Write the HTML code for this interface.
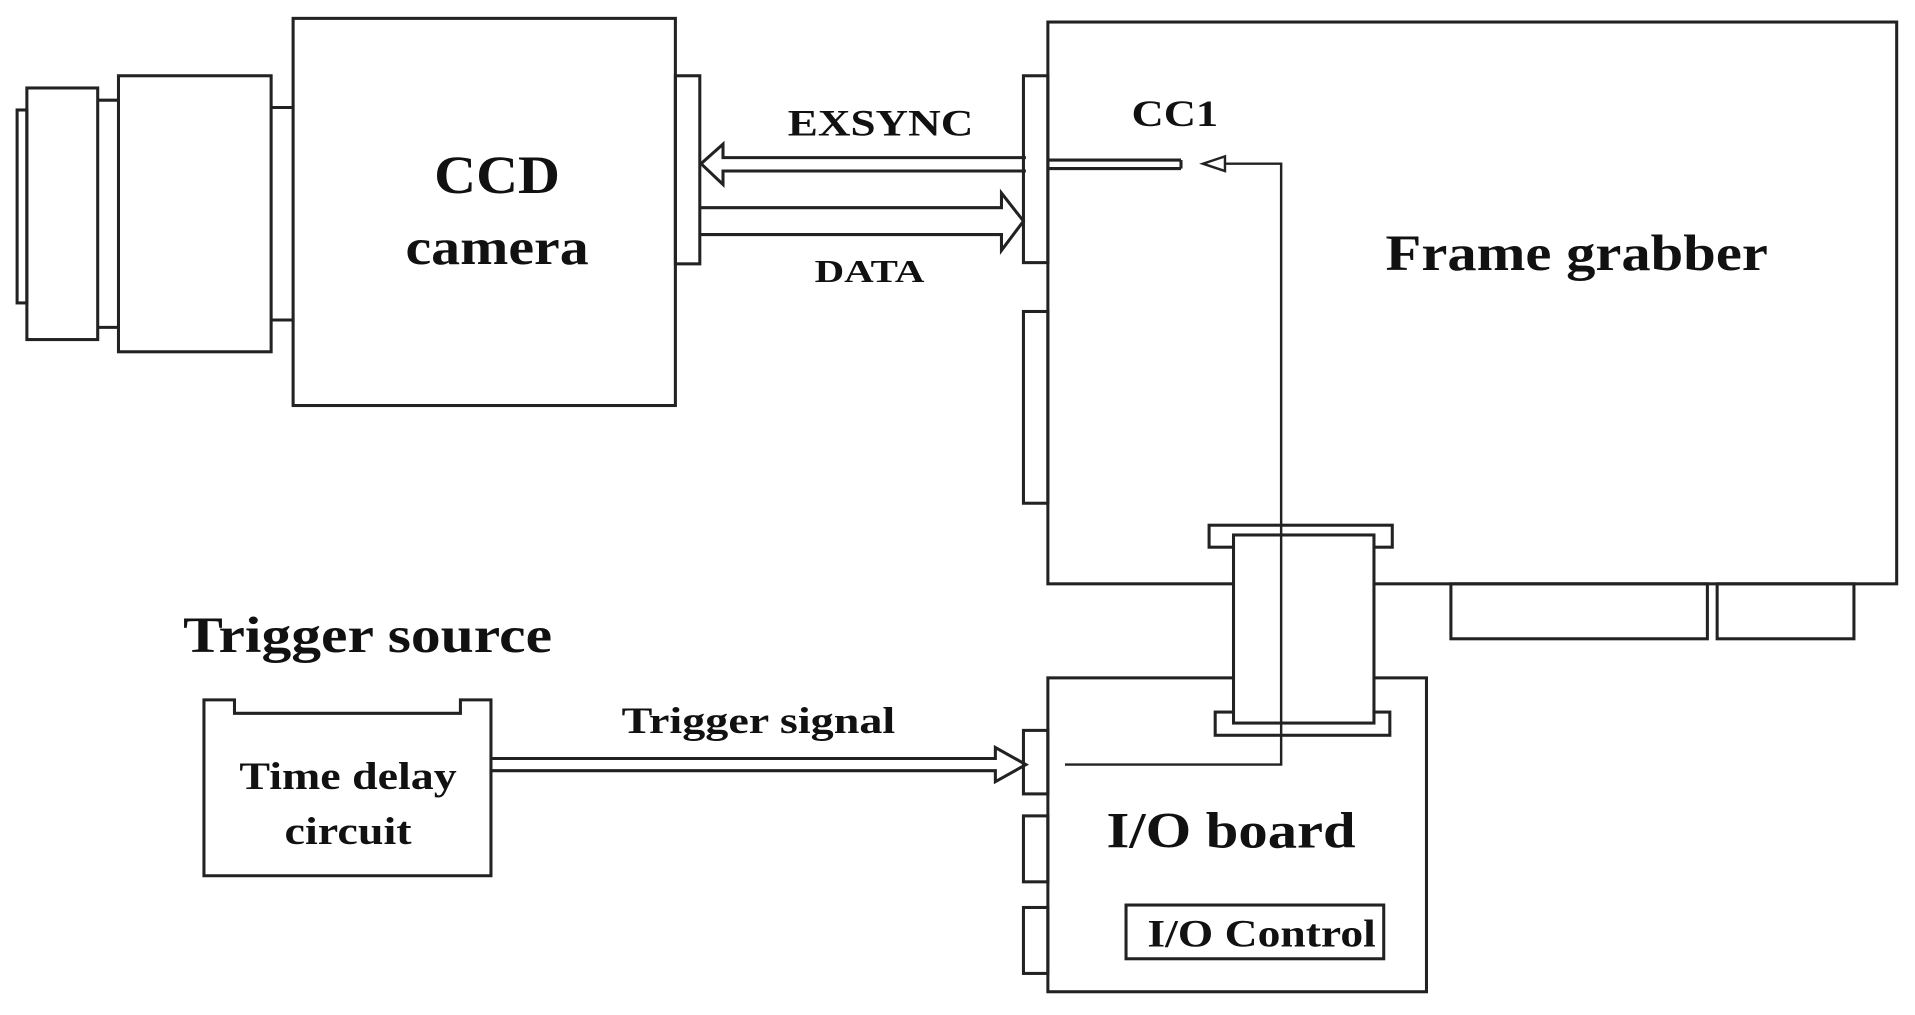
<!DOCTYPE html>
<html><head><meta charset="utf-8"><style>html,body{margin:0;padding:0;background:#fff}svg{display:block}</style></head>
<body>
<svg width="1915" height="1015" viewBox="0 0 1568 831" xmlns="http://www.w3.org/2000/svg">
<g fill="none" stroke="#222" stroke-width="2.5">
<!-- lens -->
<rect x="14" y="90" width="8" height="158"/>
<rect x="22" y="72" width="58" height="206"/>
<line x1="80" y1="82" x2="97" y2="82"/><line x1="80" y1="268" x2="97" y2="268"/>
<rect x="97" y="62" width="125" height="226"/>
<line x1="222" y1="88" x2="240" y2="88"/><line x1="222" y1="262" x2="240" y2="262"/>
<rect x="240" y="15" width="313" height="317"/>
<rect x="553" y="62" width="20" height="154"/>
<!-- frame grabber -->
<rect x="858" y="18" width="695" height="460"/>
<rect x="838" y="62" width="20" height="153"/>
<rect x="838" y="255" width="20" height="157"/>
<rect x="1188" y="478" width="210" height="45"/>
<rect x="1406" y="478" width="112" height="45"/>
<!-- EXSYNC arrow -->
<path d="M840 129 H592 V118 L574 134 L592 151 V140 H840"/>
<line x1="858" y1="131" x2="967" y2="131"/><line x1="858" y1="138" x2="967" y2="138"/>
<line x1="967" y1="131" x2="967" y2="138"/>
<!-- DATA arrow -->
<path d="M573 170 H820 V158 L838 181 L820 205 V192 H573"/>
<!-- CC1 small arrow and line -->
<path d="M1003 128 L985 134 L1003 140 Z" stroke-width="2"/>
<!-- I/O board -->
<rect x="858" y="555" width="310" height="257"/>
<rect x="838" y="598" width="20" height="52"/>
<rect x="838" y="668" width="20" height="54"/>
<rect x="838" y="743" width="20" height="54"/>
<rect x="922" y="741" width="211" height="44"/>
<!-- connector -->
<rect x="990" y="430" width="150" height="18" fill="#fff"/>
<rect x="995" y="583" width="143" height="19" fill="#fff"/>
<rect x="1010" y="438" width="115" height="154" fill="#fff"/>
<path d="M1003 134 H1049 V626 H872" stroke-width="2"/>
<!-- trigger -->
<path d="M167 573 H192 V584 H377 V573 H402 V717 H167 Z"/>
<path d="M402 621 H815 V612 L840 626 L815 640 V631 H402" stroke-width="2.5"/>
</g>
<g font-family="Liberation Serif, serif" font-weight="bold" fill="#111" text-anchor="middle">
<text x="407" y="158" font-size="44" textLength="103" lengthAdjust="spacingAndGlyphs">CCD</text>
<text x="407" y="216" font-size="42" textLength="150" lengthAdjust="spacingAndGlyphs">camera</text>
<text x="721" y="111" font-size="30" textLength="152" lengthAdjust="spacingAndGlyphs">EXSYNC</text>
<text x="712" y="231" font-size="26" textLength="90" lengthAdjust="spacingAndGlyphs">DATA</text>
<text x="962" y="103" font-size="30" textLength="71" lengthAdjust="spacingAndGlyphs">CC1</text>
<text x="1291" y="221" font-size="42" textLength="313" lengthAdjust="spacingAndGlyphs">Frame grabber</text>
<text x="301" y="534" font-size="42" textLength="302" lengthAdjust="spacingAndGlyphs">Trigger source</text>
<text x="621" y="600" font-size="30" textLength="224" lengthAdjust="spacingAndGlyphs">Trigger signal</text>
<text x="285" y="646" font-size="32" textLength="178" lengthAdjust="spacingAndGlyphs">Time delay</text>
<text x="285" y="691" font-size="32" textLength="104" lengthAdjust="spacingAndGlyphs">circuit</text>
<text x="1008" y="694" font-size="42" textLength="204" lengthAdjust="spacingAndGlyphs">I/O board</text>
<text x="1033" y="775" font-size="32" textLength="187" lengthAdjust="spacingAndGlyphs">I/O Control</text>
</g>
</svg>
</body></html>
